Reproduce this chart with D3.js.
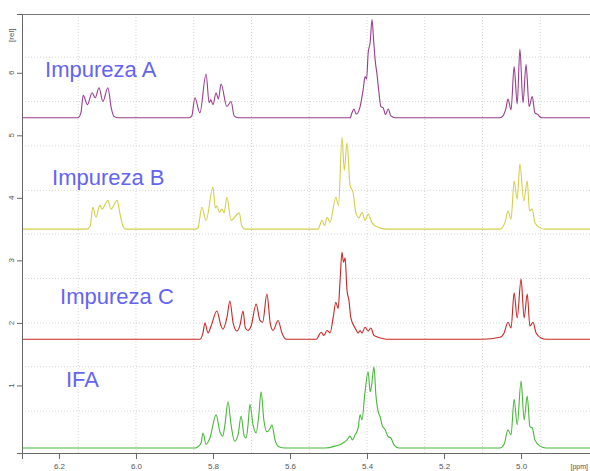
<!DOCTYPE html>
<html>
<head>
<meta charset="utf-8">
<script src="https://cdn.jsdelivr.net/npm/d3@7"></script>
<style>
  body { margin: 0; background: #fff; }
  svg { display: block; font-family: "Liberation Sans", Arial, sans-serif; }
</style>
</head>
<body>
<div id="chart"></div>
<script>
// chemical shift ticks (ppm) and intensity ticks (rel)
const ppmTicks = [6.2, 6.0, 5.8, 5.6, 5.4, 5.2, 5.0];
const relTicks = [1, 2, 3, 4, 5, 6];
const ppmGrid  = [6.15, 6.0, 5.85, 5.7, 5.55, 5.4, 5.25, 5.1, 4.95];
const relGrid  = [0.59, 1.3, 2.0, 2.71, 3.42, 4.12, 4.83, 5.54, 6.25];

const names   = ['Impureza A', 'Impureza B', 'Impureza C', 'IFA'];
const offsets = [5.28, 3.5, 1.74, 0];

// [ppm, intensity above own baseline]
const spectrumA = [
  [6.296, 0], [6.151, 0], [6.143, 0.08], [6.137, 0.36], [6.126, 0.21], [6.114, 0.40],
  [6.106, 0.32], [6.096, 0.48], [6.086, 0.26], [6.073, 0.48], [6.064, 0.15], [6.057, 0.02],
  [6.045, 0],
  [5.862, 0], [5.855, 0.03], [5.847, 0.32], [5.834, 0.08], [5.818, 0.70], [5.810, 0.24],
  [5.806, 0.29], [5.800, 0.21], [5.792, 0.40], [5.786, 0.30], [5.779, 0.54], [5.764, 0.18],
  [5.753, 0.26], [5.745, 0.03], [5.735, 0],
  [5.444, 0], [5.439, 0.08], [5.434, 0.14], [5.428, 0.06], [5.418, 0.18], [5.410, 0.45],
  [5.405, 0.66], [5.401, 0.62], [5.397, 1.04], [5.392, 1.20], [5.387, 1.57], [5.383, 1.25],
  [5.379, 0.93], [5.374, 0.69], [5.369, 0.40], [5.364, 0.18], [5.358, 0.16], [5.352, 0.05],
  [5.345, 0.14], [5.338, 0.03], [5.327, 0],
  [5.055, 0], [5.047, 0.03], [5.039, 0.16], [5.034, 0.30], [5.026, 0.13], [5.018, 0.82],
  [5.010, 0.22], [5.003, 1.10], [4.995, 0.24], [4.987, 0.85], [4.979, 0.18], [4.971, 0.34],
  [4.964, 0.08], [4.956, 0.05], [4.948, 0], [4.795, 0]
];

const spectrumB = [
  [6.296, 0], [6.127, 0], [6.119, 0.05], [6.112, 0.35], [6.104, 0.19], [6.094, 0.38],
  [6.088, 0.32], [6.073, 0.46], [6.065, 0.32], [6.049, 0.46], [6.042, 0.26], [6.034, 0.05],
  [6.026, 0],
  [5.845, 0], [5.839, 0.02], [5.829, 0.35], [5.818, 0.14], [5.800, 0.67], [5.794, 0.34],
  [5.790, 0.37], [5.783, 0.27], [5.777, 0.32], [5.771, 0.26], [5.764, 0.51], [5.753, 0.14],
  [5.732, 0.26], [5.725, 0.05], [5.717, 0],
  [5.527, 0], [5.517, 0.14], [5.510, 0.06], [5.504, 0.19], [5.496, 0.11], [5.481, 0.51],
  [5.474, 0.38], [5.465, 1.47], [5.459, 0.94], [5.452, 1.38], [5.444, 0.70], [5.436, 0.58],
  [5.429, 0.26], [5.421, 0.18], [5.413, 0.27], [5.405, 0.14], [5.397, 0.24], [5.387, 0.10],
  [5.371, 0.03], [5.351, 0],
  [5.055, 0], [5.042, 0.10], [5.034, 0.29], [5.026, 0.16], [5.018, 0.77], [5.010, 0.48],
  [5.003, 1.04], [4.993, 0.45], [4.984, 0.77], [4.978, 0.29], [4.971, 0.32], [4.964, 0.10],
  [4.951, 0.02], [4.938, 0], [4.795, 0]
];

const spectrumC = [
  [6.296, 0], [5.834, 0], [5.826, 0.10], [5.821, 0.26], [5.813, 0.10], [5.805, 0.21],
  [5.790, 0.45], [5.779, 0.21], [5.774, 0.16], [5.764, 0.34], [5.756, 0.61], [5.748, 0.27],
  [5.738, 0.13], [5.730, 0.22], [5.722, 0.45], [5.716, 0.18], [5.709, 0.14], [5.701, 0.21],
  [5.688, 0.56], [5.678, 0.30], [5.671, 0.27], [5.660, 0.72], [5.651, 0.24], [5.644, 0.14],
  [5.631, 0.30], [5.621, 0.10], [5.610, 0],
  [5.532, 0], [5.519, 0.11], [5.512, 0.06], [5.504, 0.14], [5.496, 0.10], [5.488, 0.34],
  [5.481, 0.59], [5.475, 0.49], [5.470, 0.94], [5.465, 1.39], [5.461, 1.23], [5.457, 1.30],
  [5.452, 0.78], [5.447, 0.62], [5.442, 0.34], [5.431, 0.18], [5.423, 0.10], [5.418, 0.14],
  [5.413, 0.10], [5.405, 0.19], [5.397, 0.13], [5.390, 0.18], [5.382, 0.06], [5.366, 0.02],
  [5.351, 0],
  [5.100, 0], [5.055, 0.03], [5.044, 0.10], [5.034, 0.27], [5.026, 0.18], [5.018, 0.74],
  [5.010, 0.34], [5.000, 0.96], [4.992, 0.34], [4.984, 0.72], [4.977, 0.21], [4.969, 0.27],
  [4.961, 0.10], [4.948, 0.02], [4.935, 0], [4.795, 0]
];

const spectrumIFA = [
  [6.296, 0], [5.845, 0], [5.839, 0.02], [5.831, 0.08], [5.826, 0.24], [5.818, 0.06],
  [5.808, 0.16], [5.792, 0.53], [5.782, 0.26], [5.775, 0.19], [5.769, 0.37], [5.761, 0.74],
  [5.753, 0.37], [5.744, 0.11], [5.735, 0.21], [5.727, 0.51], [5.719, 0.19], [5.714, 0.16],
  [5.709, 0.37], [5.704, 0.70], [5.696, 0.37], [5.688, 0.24], [5.681, 0.53], [5.675, 0.90],
  [5.668, 0.45], [5.660, 0.26], [5.653, 0.30], [5.647, 0.37], [5.639, 0.13], [5.629, 0.02],
  [5.613, 0],
  [5.509, 0], [5.483, 0.03], [5.462, 0.08], [5.452, 0.13], [5.444, 0.19], [5.438, 0.13],
  [5.431, 0.21], [5.423, 0.32], [5.418, 0.53], [5.413, 0.45], [5.406, 0.85], [5.397, 1.22],
  [5.392, 0.90], [5.388, 1.01], [5.382, 1.30], [5.377, 0.85], [5.371, 0.58], [5.366, 0.50],
  [5.361, 0.37], [5.353, 0.29], [5.345, 0.18], [5.338, 0.16], [5.330, 0.05], [5.317, 0],
  [5.055, 0], [5.044, 0.06], [5.034, 0.29], [5.026, 0.21], [5.018, 0.78], [5.010, 0.37],
  [5.000, 1.07], [4.992, 0.45], [4.984, 0.83], [4.977, 0.34], [4.971, 0.32], [4.964, 0.13],
  [4.951, 0.03], [4.935, 0], [4.795, 0]
];

const spectra = [spectrumA, spectrumB, spectrumC, spectrumIFA];
const colors  = ['#9a3c8c', '#d2cf4a', '#c92626', '#48b83a'];

const W = 590, H = 471;
const svg = d3.select('#chart').append('svg').attr('width', W).attr('height', H);

const x = d3.scaleLinear().domain([6.296, 4.795]).range([22, 600]);
const y = d3.scaleLinear().domain([-0.08, 6.94]).range([453, 14]);

// dotted grid
svg.append('g').selectAll('line').data(ppmGrid).join('line')
  .attr('x1', d => x(d)).attr('x2', d => x(d)).attr('y1', y.range()[1]).attr('y2', y.range()[0])
  .attr('stroke', '#d4d4d4').attr('stroke-width', 1).attr('stroke-dasharray', '1,2');
svg.append('g').selectAll('line').data(relGrid).join('line')
  .attr('x1', 22).attr('x2', W).attr('y1', d => y(d)).attr('y2', d => y(d))
  .attr('stroke', '#d4d4d4').attr('stroke-width', 1).attr('stroke-dasharray', '1,2');

// frame top
svg.append('line').attr('x1', 22).attr('x2', W).attr('y1', 14.5).attr('y2', 14.5)
  .attr('stroke', '#777').attr('stroke-width', 1);

// spectra
const line = d3.line().curve(d3.curveMonotoneX);
spectra.forEach((s, i) => {
  svg.append('path')
    .attr('d', line(s.map(p => [x(p[0]), y(p[1] + offsets[i])])))
    .attr('fill', 'none').attr('stroke', colors[i]).attr('stroke-width', 1.1)
    .attr('stroke-linejoin', 'round');
});

// x axis
const xAxisG = svg.append('g').attr('transform', `translate(0,${y(-0.08)})`);
xAxisG.call(d3.axisBottom(x).tickValues(x.ticks(30)).tickSize(4).tickFormat(''));
xAxisG.call(d3.axisBottom(x).tickValues(ppmTicks).tickSize(6).tickFormat(d3.format('.1f')));
xAxisG.selectAll('.domain').attr('stroke', '#666');
xAxisG.selectAll('line').attr('stroke', '#666');
xAxisG.selectAll('text').attr('font-size', 8).attr('fill', '#555')
  .attr('font-family', '"Liberation Sans", Arial, sans-serif').attr('dy', '0.9em');
svg.append('text').attr('x', 588).attr('y', 469).attr('text-anchor', 'end')
  .attr('font-size', 7).attr('fill', '#555').text('[ppm]');

// y axis
const yAxisG = svg.append('g').attr('transform', 'translate(22,0)');
yAxisG.call(d3.axisLeft(y).tickValues(y.ticks(35)).tickSize(3).tickFormat(''));
yAxisG.call(d3.axisLeft(y).tickValues(relTicks).tickSize(5).tickFormat(''));
yAxisG.selectAll('.domain').attr('stroke', '#666');
yAxisG.selectAll('line').attr('stroke', '#666');
relTicks.forEach(t => {
  svg.append('text').attr('transform', `translate(14,${y(t)}) rotate(-90)`)
    .attr('text-anchor', 'middle').attr('font-size', 8).attr('fill', '#555').text(t);
});
svg.append('text').attr('transform', `translate(14,${y(6.6)}) rotate(-90)`)
  .attr('text-anchor', 'middle').attr('font-size', 8).attr('fill', '#555').text('[rel]');

// sample labels
const labelPos = [[6.236, 5.93], [6.218, 4.21], [6.197, 2.3], [6.182, 0.97]];
names.forEach((n, i) => {
  svg.append('text').attr('x', x(labelPos[i][0])).attr('y', y(labelPos[i][1]))
    .attr('font-size', 22).attr('fill', '#6464f2').text(n);
});
</script>
</body>
</html>
